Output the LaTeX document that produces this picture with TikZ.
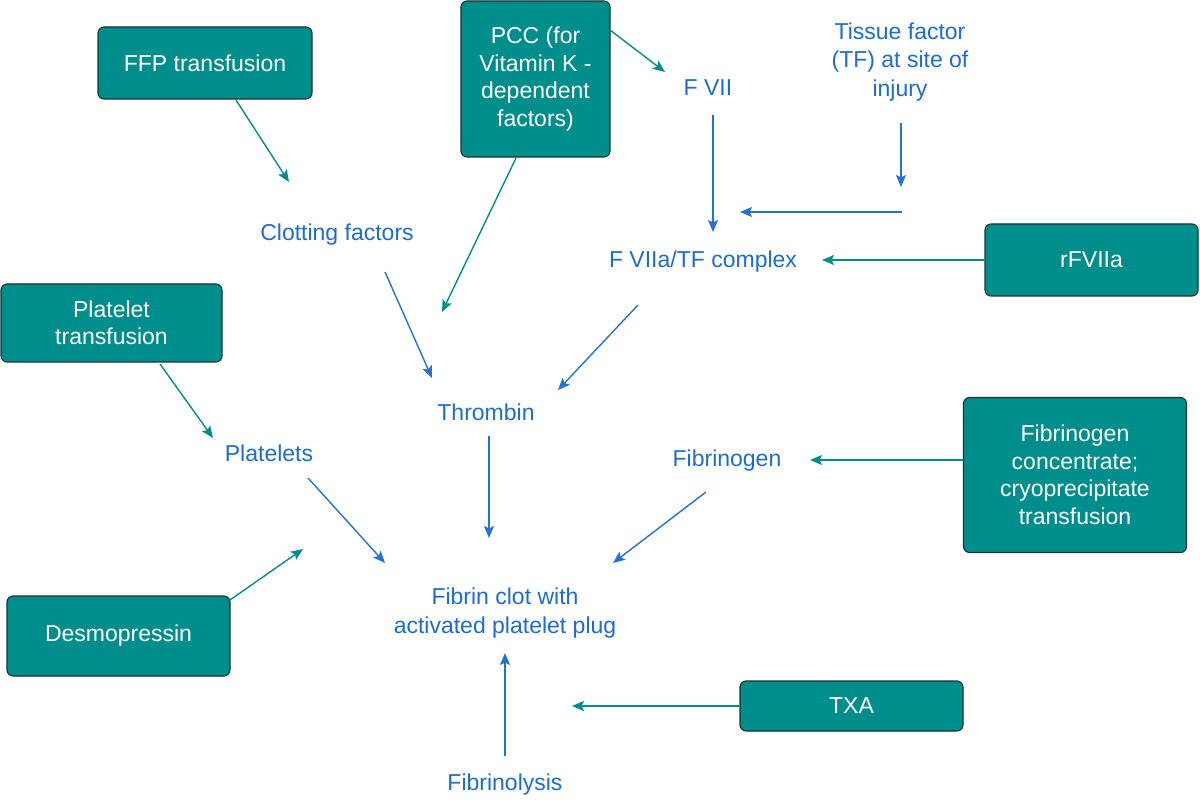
\documentclass[tikz,border=0pt]{standalone}
\usepackage{fontspec}
\setmainfont{Liberation Sans}
\usetikzlibrary{arrows.meta}
\definecolor{teal1}{RGB}{0,142,140}
\definecolor{bord}{RGB}{25,50,50}
\definecolor{txtblue}{RGB}{28,108,212}
\definecolor{arrblue}{RGB}{36,114,214}
\tikzset{
  box/.style={draw=bord, line width=1.1pt, fill=teal1, rounded corners=6pt, text=white, align=center, inner sep=0pt, font=\fontsize{23}{27.5}\selectfont},
  lbl/.style={text=txtblue, align=center, inner sep=0pt, font=\fontsize{23}{28.5}\selectfont},
  tarr/.style={draw=teal1, line width=1.4pt, -{Stealth[length=12pt,width=10pt,inset=2.5pt]}},
  barr/.style={draw=arrblue, line width=1.4pt, -{Stealth[length=12pt,width=10pt,inset=2.5pt]}}
}
\begin{document}
\begin{tikzpicture}[x=1pt,y=-1pt]
\useasboundingbox (0,0) rectangle (1200,802);
% boxes
\node[box, minimum width=214pt, minimum height=72pt] (ffp) at (205,63) {FFP transfusion};
\node[box, minimum width=149pt, minimum height=156pt] (pcc) at (535.5,79) {PCC (for\\Vitamin K -\\dependent\\factors)};
\node[box, minimum width=213pt, minimum height=72pt] (rf) at (1091.5,260) {rFVIIa};
\node[box, minimum width=221pt, minimum height=78pt] (plt) at (111.5,323) {Platelet\\transfusion};
\node[box, minimum width=223pt, minimum height=155pt] (fibc) at (1075,475) {Fibrinogen\\concentrate;\\cryoprecipitate\\transfusion};
\node[box, minimum width=223pt, minimum height=80pt] (des) at (118.5,636) {Desmopressin};
\node[box, minimum width=223pt, minimum height=50pt] (txa) at (851.5,706) {TXA};
% labels
\node[lbl] (fvii) at (708,88) {F VII};
\node[lbl] (tf) at (900,62) {Tissue factor\\(TF) at site of\\injury};
\node[lbl] (clot) at (337,235) {Clotting factors};
\node[lbl] (cplx) at (703,262) {F VIIa/TF complex};
\node[lbl] (thr) at (486,412) {Thrombin};
\node[lbl] (plat) at (269,453) {Platelets};
\node[lbl] (fbg) at (727,461) {Fibrinogen};
\node[lbl] (fib) at (505,613) {Fibrin clot with\\activated platelet plug};
\node[lbl] (lys) at (505,785) {Fibrinolysis};
\coordinate (tfend) at ([shift={(1,125)}]tf.center);
\coordinate (tfh) at ([shift={(2,150)}]tf.center);
% teal arrows
\draw[tarr] ([shift={(31,37)}]ffp.center) -- ([shift={(-48,-53)}]clot.center);
\draw[tarr] ([shift={(74.5,-49)}]pcc.center) -- ([shift={(-43,-16)}]fvii.center);
\draw[tarr] ([shift={(-19.5,79)}]pcc.center) -- ([shift={(-44,-100)}]thr.center);
\draw[tarr] (rf.west) -- ([shift={(119,-2)}]cplx.center);
\draw[tarr] ([shift={(48.5,41)}]plt.center) -- ([shift={(-56,-15)}]plat.center);
\draw[tarr] ([shift={(-112,-15)}]fibc.center) -- ([shift={(83,-1)}]fbg.center);
\draw[tarr] ([shift={(111.5,-36)}]des.center) -- ([shift={(-202,-64)}]fib.center);
\draw[tarr] (txa.west) -- ([shift={(67,93)}]fib.center);
% blue arrows
\draw[barr] ([shift={(5,27)}]fvii.center) -- ([shift={(10,-30)}]cplx.center);
\draw[barr] ([shift={(1,61)}]tf.center) -- (tfend);
\draw[barr] (tfh) -- ([shift={(37,-50)}]cplx.center);
\draw[barr] ([shift={(48,37)}]clot.center) -- ([shift={(-54,-34)}]thr.center);
\draw[barr] ([shift={(-65,43)}]cplx.center) -- ([shift={(72,-22)}]thr.center);
\draw[barr] ([shift={(3,24)}]thr.center) -- ([shift={(-16,-75)}]fib.center);
\draw[barr] ([shift={(39,25)}]plat.center) -- ([shift={(-120,-50)}]fib.center);
\draw[barr] ([shift={(-21,31)}]fbg.center) -- ([shift={(108,-50)}]fib.center);
\draw[barr] ([shift={(0,-29)}]lys.center) -- ([shift={(0,40)}]fib.center);
\end{tikzpicture}
\end{document}
